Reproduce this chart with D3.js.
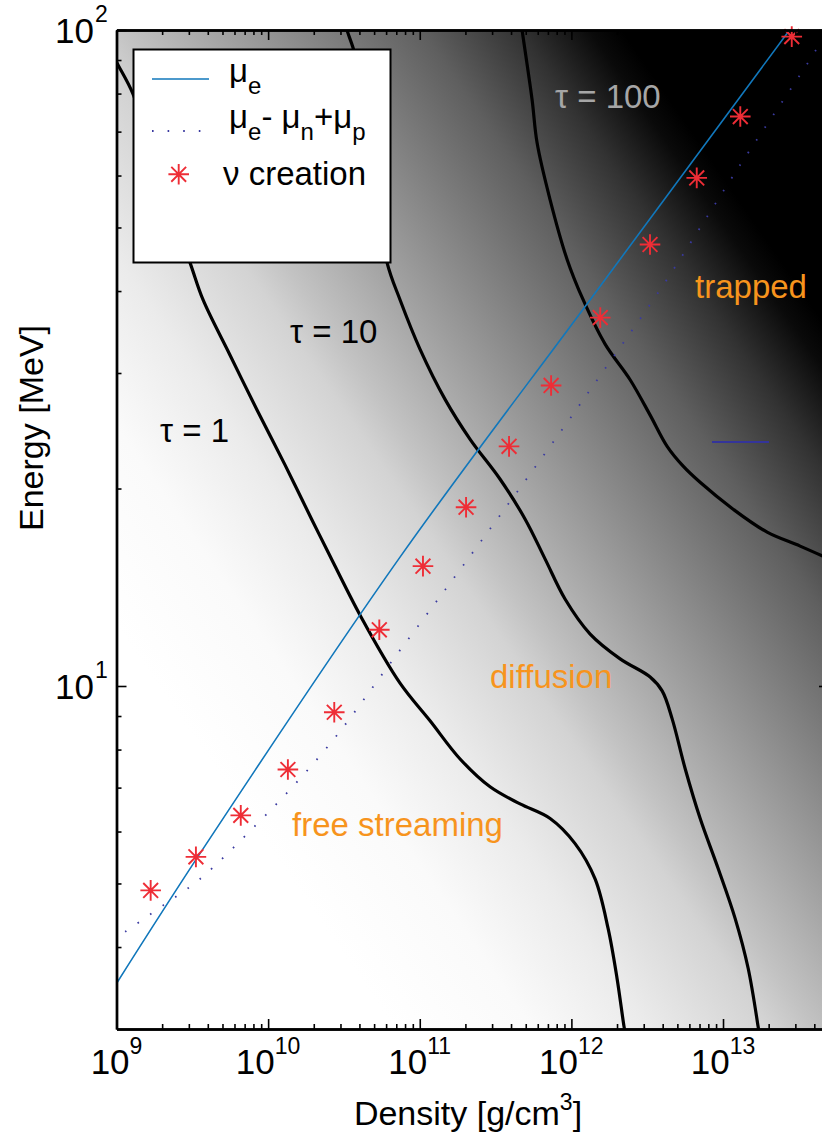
<!DOCTYPE html>
<html><head><meta charset="utf-8">
<script src="https://cdn.jsdelivr.net/npm/d3@7"></script>
<style>
html,body{margin:0;padding:0;background:#fff;}
svg{display:block;}
text{font-family:"Liberation Sans",Arial,Helvetica,sans-serif;}
</style></head>
<body>
<svg id="chart" width="822" height="1142"></svg>
<script>
// ---------- data ----------
const densityDomain = [1e9, 5e13];
const energyDomain = [3, 100];
const xMajorTicks = [1e9, 1e10, 1e11, 1e12, 1e13];
const xTickExponents = ["9", "10", "11", "12", "13"];
const yMajorTicks = [10, 100];
const yTickExponents = ["1", "2"];

// electron chemical potential mu_e  [density, energy]
const muE = [[1e9, 3.52], [3.73e9, 5.65], [7.41e10, 15.72], [1.33e12, 38.8], [2.65e13, 98.9], [2.9e13, 101.8]];
// mu_e - mu_n + mu_p
const muDiff = [[1.14e9, 4.22], [2.03e9, 4.63], [3.555e9, 5.08], [8.2e9, 6.12], [1.575e10, 7.17], [2.85e10, 8.42],
  [6.56e10, 10.92], [1.585e11, 14.35], [3.386e11, 18.21], [8.42e11, 24.35], [1.8e12, 31.24], [3.85e12, 40.2],
  [1.299e13, 62.3], [4.25e13, 94.5], [5.3e13, 104]];
// neutrino creation energies
const nuDensity = [1.68e9, 3.34e9, 6.60e9, 1.35e10, 2.73e10, 5.41e10, 1.05e11, 2.02e11, 3.88e11, 7.35e11, 1.55e12, 3.30e12, 6.71e12, 1.30e13, 2.84e13];
const nuEnergy  = [4.88, 5.49, 6.35, 7.46, 9.12, 12.18, 15.23, 18.73, 23.19, 28.72, 36.44, 47.1, 59.5, 73.8, 97.7];

// optical depth contours [density, energy]
const tau1 = [[9.5e8, 92], [1e9, 89.4], [1.284e9, 79.9], [1.936e9, 59.1], [3.053e9, 44.2], [3.72e9, 38.8], [5.6e9, 31.96],
  [8.45e9, 26.35], [1.292e10, 21.73], [1.947e10, 17.91], [2.445e10, 16.12], [4.1e10, 12.74], [7.41e10, 10.1],
  [1.169e11, 8.85], [1.845e11, 7.74], [2.909e11, 7.02], [4.59e11, 6.61], [7.24e11, 6.28], [1.058e12, 5.75],
  [1.433e12, 5.08], [1.746e12, 4.27], [2.002e12, 3.58], [2.227e12, 3.02], [2.3e12, 2.9]];
const tau10 = [[3.25e10, 103], [3.314e10, 100], [3.743e10, 91.6], [4.7e10, 63.4], [6.085e10, 44.2], [7.41e10, 38.8],
  [1.005e11, 32.6], [1.469e11, 27.35], [2.149e11, 23.77], [3.389e11, 20.66], [4.955e11, 17.96], [6.714e11, 15.61],
  [9.1e11, 13.56], [1.33e12, 12.0], [2.097e12, 11.0], [3.307e12, 10.32], [3.968e12, 9.83], [4.62e12, 8.91],
  [5.63e12, 7.48], [7.07e12, 6.28], [9.29e12, 5.27], [1.203e13, 4.42], [1.466e13, 3.71], [1.706e13, 3.02], [1.75e13, 2.9]];
const tau100 = [[4.65e11, 103], [4.73e11, 100], [5.506e11, 78.3], [5.94e11, 67.3], [7.24e11, 55.1], [9.37e11, 44.7],
  [1.195e12, 38.8], [1.669e12, 33.2], [2.439e12, 29.3], [3.3e12, 25.9], [4.28e12, 23.19], [5.46e12, 21.63],
  [7.06e12, 20.44], [1.166e13, 18.6], [1.954e13, 17.16], [3.226e13, 16.34], [5.01e13, 15.61], [5.6e13, 15.4]];

const labels = [
  {text: "\u03c4 = 100", d: 7.8e11, e: 76.0, color: "#a6a6a6"},
  {text: "trapped", d: 6.54e12, e: 39.0, color: "#f7941d"},
  {text: "\u03c4 = 10", d: 1.394e10, e: 33.3, color: "#000"},
  {text: "\u03c4 = 1", d: 1.936e9, e: 23.55, color: "#000"},
  {text: "diffusion", d: 2.905e11, e: 9.93, color: "#f7941d"},
  {text: "free streaming", d: 1.437e10, e: 5.91, color: "#f7941d"}
];
// stray legend stroke in the plot
const strayDensity = [8.46e12, 2.01e13];
const strayEnergy = 23.55;

// ---------- layout ----------
const svg = d3.select("#chart");
const L = 116.5, R = 829, T = 30, B = 1029;
const x = d3.scaleLog().domain(densityDomain).range([L, R]);
const y = d3.scaleLog().domain(energyDomain).range([B, T]);

const defs = svg.append("defs");
defs.append("clipPath").attr("id", "plotclip").append("rect")
  .attr("x", L).attr("y", T).attr("width", R - L).attr("height", B - T);

const grad = defs.append("linearGradient").attr("id", "bg")
  .attr("gradientUnits", "userSpaceOnUse")
  .attr("x1", 185.4).attr("y1", 726.4).attr("x2", 810.9).attr("y2", 294.7);
const stops = [[0, 255], [0.15, 250], [0.276, 235], [0.408, 211], [0.453, 195], [0.605, 148], [0.776, 95], [0.882, 50], [0.958, 10], [0.993, 0], [1, 0]];
stops.forEach(([o, g]) => grad.append("stop").attr("offset", o).attr("stop-color", d3.rgb(g, g, g)));

svg.append("rect").attr("x", L).attr("y", T).attr("width", R - L).attr("height", B - T).attr("fill", "url(#bg)");

const plot = svg.append("g").attr("clip-path", "url(#plotclip)");
const line = d3.line().x(d => x(d[0])).y(d => y(d[1])).curve(d3.curveCatmullRom.alpha(0.5));

[tau1, tau10, tau100].forEach(c => {
  plot.append("path").attr("d", line(c)).attr("fill", "none").attr("stroke", "#000").attr("stroke-width", 3.2);
});

plot.append("path").attr("d", line(muE)).attr("fill", "none").attr("stroke", "#1177bb").attr("stroke-width", 1.6);
plot.append("path").attr("d", line(muDiff)).attr("fill", "none").attr("stroke", "#3a3aa0")
  .attr("stroke-width", 1.8).attr("stroke-dasharray", "1.6 13.6");

plot.append("line").attr("x1", x(strayDensity[0])).attr("x2", x(strayDensity[1])).attr("y1", y(strayEnergy)).attr("y2", y(strayEnergy))
  .attr("stroke", "#34349a").attr("stroke-width", 2);

function asterisk(g, cx, cy, r) {
  const d = r * 0.72;
  g.append("path").attr("d",
    `M${cx},${cy - r}L${cx},${cy + r}M${cx - r},${cy}L${cx + r},${cy}M${cx - d},${cy - d}L${cx + d},${cy + d}M${cx - d},${cy + d}L${cx + d},${cy - d}`)
    .attr("stroke", "#ee2d36").attr("stroke-width", 1.9).attr("fill", "none");
}
const ast = svg.append("g");
nuDensity.forEach((d, i) => asterisk(ast, x(d), y(nuEnergy[i]), 10.3));

// annotations
labels.forEach(l => {
  svg.append("text").attr("x", x(l.d)).attr("y", y(l.e)).attr("font-size", 33).attr("fill", l.color).text(l.text);
});

// ---------- axes ----------
const xMinor = [];
for (let p = 9; p <= 13; p++) for (let k = 2; k <= 9; k++) { const v = k * Math.pow(10, p); if (v < 5e13) xMinor.push(v); }
const yMinor = [];
for (let p = 0; p <= 1; p++) for (let k = 2; k <= 9; k++) { const v = k * Math.pow(10, p); if (v > 3 && v < 100) yMinor.push(v); }

function styleAxis(g) {
  g.select(".domain").attr("stroke", "#000").attr("stroke-width", 2.4);
  g.selectAll(".tick line").attr("stroke", "#000").attr("stroke-width", 1.6);
  g.selectAll(".tick text").remove();
}
const axes = svg.append("g");
axes.append("g").attr("transform", `translate(0,${B})`).call(d3.axisBottom(x).tickValues(xMinor).tickSize(-5).tickSizeOuter(0)).call(styleAxis);
axes.append("g").attr("transform", `translate(0,${B})`).call(d3.axisBottom(x).tickValues(xMajorTicks).tickSize(-10).tickSizeOuter(0)).call(styleAxis);
axes.append("g").attr("transform", `translate(0,${T})`).call(d3.axisTop(x).tickValues(xMinor).tickSize(-5).tickSizeOuter(0)).call(styleAxis);
axes.append("g").attr("transform", `translate(0,${T})`).call(d3.axisTop(x).tickValues(xMajorTicks).tickSize(-10).tickSizeOuter(0)).call(styleAxis);
axes.append("g").attr("transform", `translate(${L},0)`).call(d3.axisLeft(y).tickValues(yMinor).tickSize(-5).tickSizeOuter(0)).call(styleAxis);
axes.append("g").attr("transform", `translate(${L},0)`).call(d3.axisLeft(y).tickValues(yMajorTicks).tickSize(-10).tickSizeOuter(0)).call(styleAxis);
axes.append("g").attr("transform", `translate(${R},0)`).call(d3.axisRight(y).tickValues(yMinor).tickSize(-5).tickSizeOuter(0)).call(styleAxis);
axes.append("g").attr("transform", `translate(${R},0)`).call(d3.axisRight(y).tickValues(yMajorTicks).tickSize(-10).tickSizeOuter(0)).call(styleAxis);

// tick labels
xMajorTicks.forEach((v, i) => {
  const t = svg.append("text").attr("x", x(v)).attr("y", 1074).attr("text-anchor", "middle").attr("font-size", 35);
  t.append("tspan").text("10");
  t.append("tspan").attr("font-size", 23).attr("dy", -20).text(xTickExponents[i]);
});
yMajorTicks.forEach((v, i) => {
  svg.append("text").attr("x", 94).attr("y", y(v) + 13).attr("text-anchor", "end").attr("font-size", 35).text("10");
  svg.append("text").attr("x", 95).attr("y", y(v) - 8).attr("font-size", 23).text(yTickExponents[i]);
});

// axis titles
const xt = svg.append("text").attr("x", 468).attr("y", 1125).attr("text-anchor", "middle").attr("font-size", 34);
xt.append("tspan").text("Density [g/cm");
xt.append("tspan").attr("font-size", 23).attr("dy", -15).text("3");
xt.append("tspan").attr("dy", 15).text("]");
svg.append("text").attr("transform", "translate(43,428) rotate(-90)").attr("text-anchor", "middle").attr("font-size", 34).text("Energy [MeV]");

// ---------- legend ----------
const lg = svg.append("g");
lg.append("rect").attr("x", 133.5).attr("y", 49.5).attr("width", 257).attr("height", 213).attr("fill", "#fff").attr("stroke", "#000").attr("stroke-width", 2);
lg.append("line").attr("x1", 152).attr("x2", 209).attr("y1", 79).attr("y2", 79).attr("stroke", "#1177bb").attr("stroke-width", 1.6);
lg.append("line").attr("x1", 152).attr("x2", 205).attr("y1", 131).attr("y2", 131).attr("stroke", "#3a3aa0").attr("stroke-width", 1.8).attr("stroke-dasharray", "1.6 14");
asterisk(lg, 178.7, 174.3, 10.3);
const t1 = lg.append("text").attr("x", 229).attr("y", 82).attr("font-size", 33);
t1.append("tspan").text("\u03bc");
t1.append("tspan").attr("font-size", 24).attr("dy", 12).text("e");
const t2 = lg.append("text").attr("x", 229).attr("y", 128).attr("font-size", 33);
t2.append("tspan").text("\u03bc");
t2.append("tspan").attr("font-size", 24).attr("dy", 12).text("e");
t2.append("tspan").attr("dy", -12).text("- \u03bc");
t2.append("tspan").attr("font-size", 24).attr("dy", 12).text("n");
t2.append("tspan").attr("dy", -12).text("+\u03bc");
t2.append("tspan").attr("font-size", 24).attr("dy", 12).text("p");
lg.append("text").attr("x", 223).attr("y", 185).attr("font-size", 33).text("\u03bd creation");
</script>
</body></html>
